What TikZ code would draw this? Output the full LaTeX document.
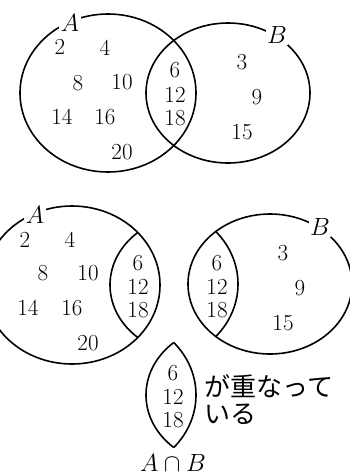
\documentclass[tikz,border=0pt]{standalone}
\usepackage{fontspec}
\newfontfamily\jpfont{Noto Sans CJK JP}
\begin{document}
\begin{tikzpicture}[x=1pt,y=-1pt,line width=1.6pt,
  num/.style={font=\fontsize{23}{23}\selectfont,inner sep=0pt},
  setlabel/.style={font=\fontsize{23}{23}\selectfont,fill=white,inner sep=1.5pt},
  jptext/.style={font=\jpfont\fontsize{26}{26}\selectfont,inner sep=0pt,anchor=west}]
\useasboundingbox (0,0) rectangle (350,475);
% ---------- top: A and B ----------
\draw (108,93) ellipse [x radius=88, y radius=79];
\draw (228,93) ellipse [x radius=82, y radius=70];
\node[setlabel] (tA) at (70,23) {$A$};
\node[setlabel] (tB) at (277,35) {$B$};
\node[num] (t2) at (60,47) {2};
\node[num] (t4) at (105,48) {4};
\node[num] (t8) at (78,83) {8};
\node[num] (t10) at (122,82) {10};
\node[num] (t14) at (62,117) {14};
\node[num] (t16) at (105,117) {16};
\node[num] (t20) at (122,152) {20};
\node[num] (t6) at (175,70) {6};
\node[num] (t12) at (175,95) {12};
\node[num] (t18) at (175,118) {18};
\node[num] (t3) at (242,62) {3};
\node[num] (t9) at (257,97) {9};
\node[num] (t15) at (242,132) {15};
% ---------- bottom left: A ----------
\draw (72,285) ellipse [x radius=88, y radius=79];
\begin{scope}
  \clip (72,285) ellipse [x radius=88, y radius=79];
  \draw (192,285) ellipse [x radius=82, y radius=70];
\end{scope}
\node[setlabel] (lA) at (35,215) {$A$};
\node[num] (l2) at (25,240) {2};
\node[num] (l4) at (70,240) {4};
\node[num] (l8) at (43,273) {8};
\node[num] (l10) at (88,273) {10};
\node[num] (l14) at (28,308) {14};
\node[num] (l16) at (72,308) {16};
\node[num] (l20) at (88,343) {20};
\node[num] (l6) at (138,263) {6};
\node[num] (l12) at (138,287) {12};
\node[num] (l18) at (138,310) {18};
% ---------- bottom right: B ----------
\draw (270,284) ellipse [x radius=82, y radius=70];
\begin{scope}
  \clip (270,284) ellipse [x radius=82, y radius=70];
  \draw (150,284) ellipse [x radius=88, y radius=79];
\end{scope}
\node[setlabel] (rB) at (320,227) {$B$};
\node[num] (r6) at (217,263) {6};
\node[num] (r12) at (217,287) {12};
\node[num] (r18) at (217,310) {18};
\node[num] (r3) at (283,253) {3};
\node[num] (r9) at (300,288) {9};
\node[num] (r15) at (283,323) {15};
% ---------- intersection lens ----------
\begin{scope}
  \clip (108,395) ellipse [x radius=88, y radius=79];
  \draw (228,395) ellipse [x radius=82, y radius=70];
\end{scope}
\begin{scope}
  \clip (228,395) ellipse [x radius=82, y radius=70];
  \draw (108,395) ellipse [x radius=88, y radius=79];
\end{scope}
\node[num] (c6) at (173,373) {6};
\node[num] (c12) at (173,397) {12};
\node[num] (c18) at (173,420) {18};
\node[jptext] (jp1) at (204,386) {が重なって};
\node[jptext] (jp2) at (204,414) {いる};
\node[num,anchor=base] (cap) at (173,471) {$A\cap B$};
\end{tikzpicture}
\end{document}
